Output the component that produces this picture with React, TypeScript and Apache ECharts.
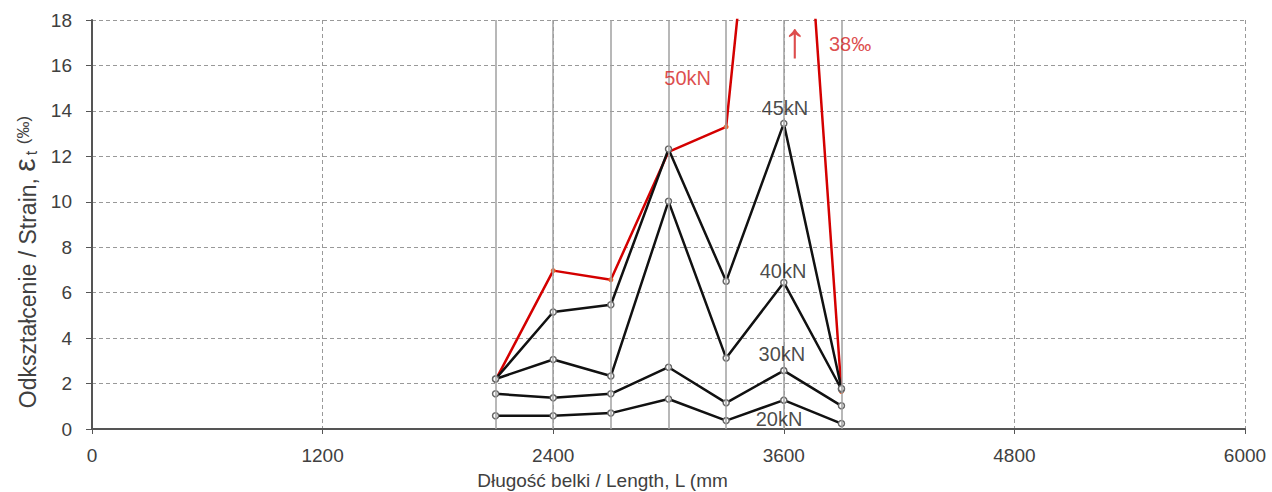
import React, { useEffect, useRef } from "react";
import * as echarts from "echarts";

const positions = [2100, 2400, 2700, 3000, 3300, 3600, 3900];
const s20 = [0.58, 0.58, 0.7, 1.32, 0.37, 1.27, 0.24];
const s30 = [1.55, 1.37, 1.55, 2.72, 1.15, 2.57, 1.02];
const s40 = [2.2, 3.06, 2.33, 10.02, 3.12, 6.45, 1.75];
const s45 = [2.2, 5.15, 5.47, 12.32, 6.5, 13.45, 1.78];
const s50 = [2.15, 6.97, 6.57, 12.2, 13.3, 38, 1.65];

const xTicks = [0, 1200, 2400, 3600, 4800, 6000];
const yTicks = [0, 2, 4, 6, 8, 10, 12, 14, 16, 18];

const annotations: [number, number, string, string][] = [
  [3100, 15.45, "50kN", "#d42020"],
  [3606, 14.13, "45kN", "#1a1a1a"],
  [3596, 6.95, "40kN", "#1a1a1a"],
  [3590, 3.29, "30kN", "#1a1a1a"],
  [3575, 0.43, "20kN", "#1a1a1a"],
  [3945, 16.95, "38‰", "#d42020"],
];
const arrowNote: [number, number, string] = [3658, 17.1, "↑"];

const FONT = "'Liberation Sans', Arial, sans-serif";

export default function App() {
  const ref = useRef<HTMLDivElement>(null);
  useEffect(() => {
    if (!ref.current) return;
    const chart = echarts.init(ref.current, undefined, { renderer: "svg" });
    const pair = (arr: number[]) => arr.map((v, i) => [positions[i], v]);
    const blackSeries = (name: string, arr: number[]) => ({
      name,
      type: "line",
      data: pair(arr),
      symbol: "circle",
      symbolSize: 6,
      showSymbol: true,
      lineStyle: { color: "#111111", width: 2.5 },
      itemStyle: { color: "#ffffff", borderColor: "#666666", borderWidth: 1.5 },
      z: 3,
    });
    chart.setOption({
      animation: false,
      textStyle: { fontFamily: FONT },
      grid: { left: 92, right: 27, top: 20, bottom: 63, outerBoundsMode: "none", containLabel: false },
      xAxis: {
        type: "value",
        min: xTicks[0],
        max: xTicks[xTicks.length - 1],
        interval: 1200,
        name: "Długość belki / Length, L (mm",
        nameLocation: "middle",
        nameGap: 42,
        nameTextStyle: { fontSize: 19, color: "#404040", fontFamily: FONT, padding: [0, 132, 0, 0] },
        axisLine: { lineStyle: { color: "#555555", width: 2 } },
        axisTick: { show: true, length: 5, lineStyle: { color: "#555555" } },
        axisLabel: {
          fontSize: 19,
          color: "#404040",
          margin: 17,
          fontFamily: FONT,
          formatter: (v: number) => String(v),
        },
        splitLine: { show: true, lineStyle: { color: "#999999", type: [4, 3], width: 1 } },
      },
      yAxis: {
        type: "value",
        min: yTicks[0],
        max: yTicks[yTicks.length - 1],
        interval: 2,
        axisLine: { show: true, lineStyle: { color: "#555555", width: 2 } },
        axisTick: { show: true, length: 6, lineStyle: { color: "#555555" } },
        axisLabel: {
          fontSize: 19,
          color: "#404040",
          margin: 20,
          fontFamily: FONT,
          formatter: (v: number) => String(v),
        },
        splitLine: { show: true, lineStyle: { color: "#999999", type: [4, 3], width: 1 } },
      },
      graphic: [
        {
          type: "text",
          x: 24,
          y: 262,
          rotation: Math.PI / 2,
          style: {
            text: "{a|Odkształcenie / Strain, }{e|ε}{s|t}{p| (‰)}",
            align: "center",
            verticalAlign: "middle",
            fill: "#404040",
            rich: {
              a: { fontSize: 23, fontFamily: FONT, fill: "#404040", verticalAlign: "bottom" },
              e: { fontSize: 30, fontFamily: FONT, fill: "#404040", verticalAlign: "bottom" },
              s: { fontSize: 16, fontFamily: FONT, fill: "#404040", verticalAlign: "bottom", padding: [8, 2, 0, 3] },
              p: { fontSize: 17, fontFamily: FONT, fill: "#404040", verticalAlign: "bottom", padding: [0, 0, 7, 0] },
            },
          },
        },
      ],
      series: [
        {
          name: "grid",
          type: "line",
          data: [],
          silent: true,
          z: 1,
          markLine: {
            silent: true,
            symbol: "none",
            label: { show: false },
            lineStyle: { color: "#a0a0a0", type: "solid", width: 1.5 },
            data: positions.map((x) => ({ xAxis: x })),
          },
        },
        blackSeries("20kN", s20),
        blackSeries("30kN", s30),
        blackSeries("40kN", s40),
        blackSeries("45kN", s45),
        {
          name: "50kN",
          type: "line",
          data: pair(s50),
          symbol: "circle",
          symbolSize: 5,
          lineStyle: { color: "#d40000", width: 2.5 },
          itemStyle: { color: "#e8602c" },
          z: 2,
        },
        {
          name: "labels",
          type: "scatter",
          symbolSize: 0,
          silent: true,
          z: 5,
          data: [
            ...annotations.map((a) => ({
              value: [a[0], a[1]],
              label: {
                show: true,
                position: "inside",
                formatter: a[2],
                color: a[3],
                fontSize: 20,
                fontFamily: FONT,
              },
            })),
            {
              value: [arrowNote[0], arrowNote[1]],
              label: {
                show: true,
                position: "inside",
                formatter: arrowNote[2],
                color: "#d42020",
                fontSize: 50,
                fontFamily: FONT,
              },
            },
          ],
        },
      ],
    });
    return () => chart.dispose();
  }, []);
  return (
    <div
      ref={ref}
      style={{ position: "fixed", left: 0, top: 0, width: 1272, height: 492, background: "#fff" }}
    />
  );
}
